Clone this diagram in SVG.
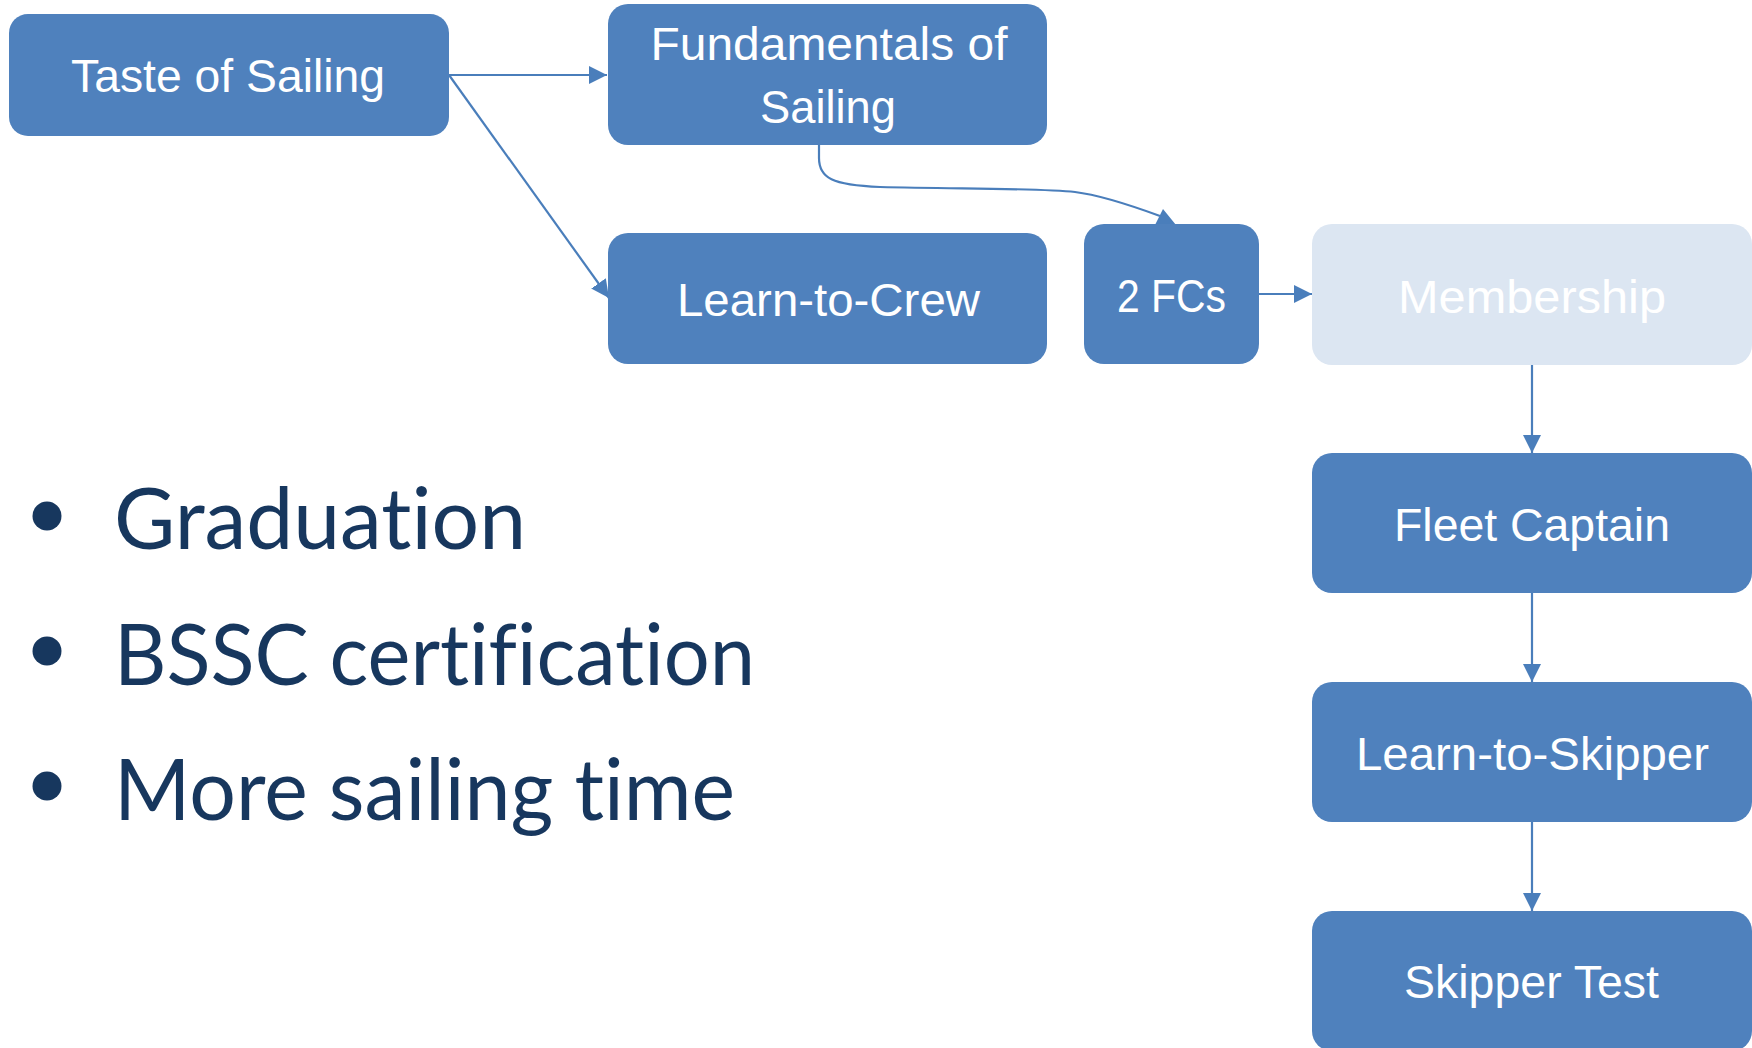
<svg xmlns="http://www.w3.org/2000/svg" width="1752" height="1048" viewBox="0 0 1752 1048">
<style>
.node{fill:#4f81bd}
.light{fill:#dce6f2}
.lbl{font-family:"Liberation Sans",Arial,sans-serif;font-size:46px;fill:#ffffff;text-anchor:middle}
.bul{font-family:Lato,"Liberation Sans",sans-serif;font-size:86px;fill:#17375e;font-variant-ligatures:none}
.conn{fill:none;stroke:#4a7ebb;stroke-width:2.2}
</style>
<defs>
<marker id="arr" markerUnits="userSpaceOnUse" markerWidth="18" markerHeight="18" refX="17" refY="8.5" orient="auto" viewBox="0 0 17 17">
<path d="M0,0 L17,8.5 L0,17 z" fill="#4a7ebb"/>
</marker>
</defs>
<rect width="1752" height="1048" fill="#ffffff"/>
<g id="connectors">
<line class="conn" x1="449" y1="75" x2="607" y2="75" marker-end="url(#arr)"/>
<line class="conn" x1="449" y1="75" x2="609" y2="298" marker-end="url(#arr)"/>
<path class="conn" d="M819,145 L819,158 C819,178 832,185 880,187 C960,189 1040,188 1075,192 C1100,195 1130,205 1160,216"/>
<polygon points="1163,209 1155,225 1176,225" fill="#4a7ebb"/>
<line class="conn" x1="1259" y1="294" x2="1312" y2="294" marker-end="url(#arr)"/>
<line class="conn" x1="1532" y1="365" x2="1532" y2="453" marker-end="url(#arr)"/>
<line class="conn" x1="1532" y1="593" x2="1532" y2="682" marker-end="url(#arr)"/>
<line class="conn" x1="1532" y1="822" x2="1532" y2="911" marker-end="url(#arr)"/>
</g>
<g id="taste">
<rect class="node" x="9" y="14" width="440" height="122" rx="19"/>
<text class="lbl" x="228" y="92" textLength="314" lengthAdjust="spacingAndGlyphs">Taste of Sailing</text>
</g>
<g id="fundamentals">
<rect class="node" x="608" y="4" width="439" height="141" rx="20"/>
<text class="lbl" x="829" y="60" textLength="357" lengthAdjust="spacingAndGlyphs">Fundamentals of</text>
<text class="lbl" x="828" y="123" textLength="136" lengthAdjust="spacingAndGlyphs">Sailing</text>
</g>
<g id="crew">
<rect class="node" x="608" y="233" width="439" height="131" rx="20"/>
<text class="lbl" x="828.5" y="316" textLength="303" lengthAdjust="spacingAndGlyphs">Learn-to-Crew</text>
</g>
<g id="fcs">
<rect class="node" x="1084" y="224" width="175" height="140" rx="20"/>
<text class="lbl" x="1171.5" y="312" textLength="109" lengthAdjust="spacingAndGlyphs">2 FCs</text>
</g>
<g id="membership">
<rect class="light" x="1312" y="224" width="440" height="141" rx="20"/>
<text class="lbl" x="1532" y="313" textLength="268" lengthAdjust="spacingAndGlyphs">Membership</text>
</g>
<g id="fleet">
<rect class="node" x="1312" y="453" width="440" height="140" rx="20"/>
<text class="lbl" x="1532" y="541" textLength="276" lengthAdjust="spacingAndGlyphs">Fleet Captain</text>
</g>
<g id="skipper">
<rect class="node" x="1312" y="682" width="440" height="140" rx="20"/>
<text class="lbl" x="1532.5" y="770" textLength="353" lengthAdjust="spacingAndGlyphs">Learn-to-Skipper</text>
</g>
<g id="test">
<rect class="node" x="1312" y="911" width="440" height="140" rx="20"/>
<text class="lbl" x="1531.5" y="998" textLength="255" lengthAdjust="spacingAndGlyphs">Skipper Test</text>
</g>
<g id="bullets">
<circle cx="47" cy="516" r="14.5" fill="#17375e"/>
<circle cx="47" cy="651" r="14.5" fill="#17375e"/>
<circle cx="47" cy="786" r="14.5" fill="#17375e"/>
<text class="bul" x="114" y="549" textLength="412" lengthAdjust="spacingAndGlyphs">Graduation</text>
<text class="bul" x="114" y="685" textLength="641" lengthAdjust="spacingAndGlyphs">BSSC certification</text>
<text class="bul" x="114" y="820" textLength="621" lengthAdjust="spacingAndGlyphs">More sailing time</text>
</g>
</svg>
